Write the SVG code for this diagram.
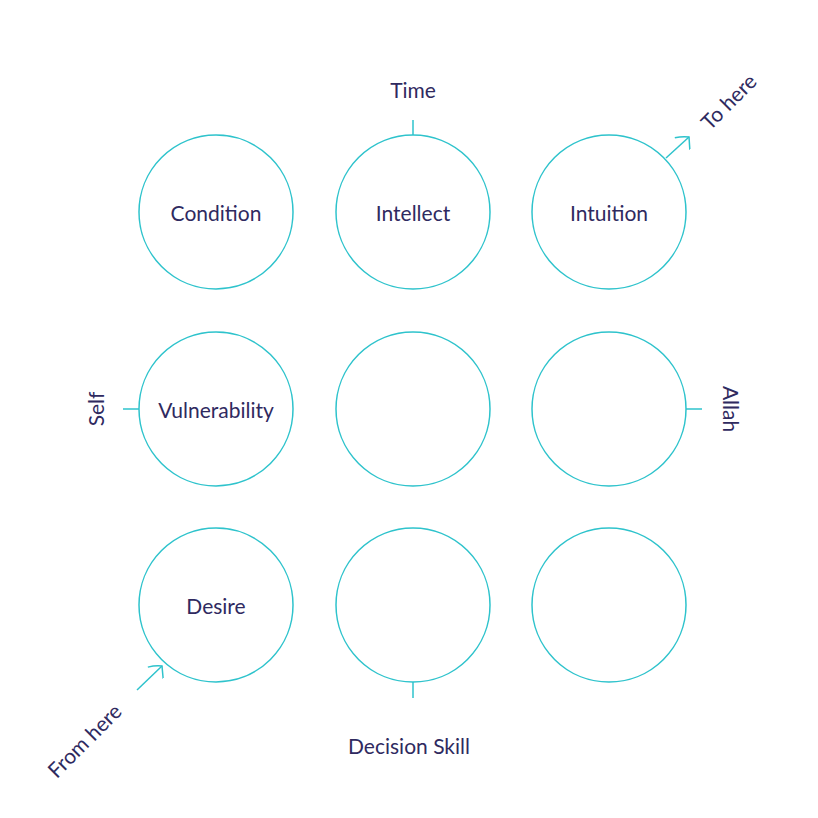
<svg xmlns="http://www.w3.org/2000/svg" width="818" height="818" viewBox="0 0 818 818">
<style>
.c{fill:none;stroke:#2ec3cc;stroke-width:1.5}
.l{stroke:#2ec3cc;stroke-width:1.5;fill:none}
.t{font-family:Lato,"Liberation Sans",sans-serif;font-size:21px;fill:#2f2a5f;text-anchor:middle;dominant-baseline:central}
</style>
<defs>
<marker id="ah" viewBox="-12 -10 14 20" markerWidth="14" markerHeight="20" refX="0" refY="0" orient="auto" markerUnits="userSpaceOnUse">
<path d="M-11,-9 Q-4,-5 0,0 Q-4,5 -8,10" class="l"/>
</marker>
</defs>
<rect width="818" height="818" fill="#fff"/>
<g id="n1"><circle class="c" cx="216" cy="212" r="77"/><text class="t" x="216" y="212">Condition</text></g>
<g id="n2"><circle class="c" cx="413" cy="212" r="77"/><text class="t" x="413" y="212">Intellect</text></g>
<g id="n3"><circle class="c" cx="609" cy="212" r="77"/><text class="t" x="609" y="212">Intuition</text></g>
<g id="n4"><circle class="c" cx="216" cy="409" r="77"/><text class="t" x="216" y="409">Vulnerability</text></g>
<g id="n5"><circle class="c" cx="413" cy="409" r="77"/></g>
<g id="n6"><circle class="c" cx="609" cy="409" r="77"/></g>
<g id="n7"><circle class="c" cx="216" cy="605" r="77"/><text class="t" x="216" y="605">Desire</text></g>
<g id="n8"><circle class="c" cx="413" cy="605" r="77"/></g>
<g id="n9"><circle class="c" cx="609" cy="605" r="77"/></g>
<g id="connectors">
<line class="l" x1="413" y1="120" x2="413" y2="135"/>
<line class="l" x1="413" y1="682" x2="413" y2="698"/>
<line class="l" x1="123" y1="409" x2="139" y2="409"/>
<line class="l" x1="686" y1="409" x2="702" y2="409"/>
<line class="l" x1="666" y1="158" x2="689" y2="137" marker-end="url(#ah)"/>
<line class="l" x1="137" y1="690" x2="162" y2="666" marker-end="url(#ah)"/>
</g>
<g id="labels">
<text class="t" x="413" y="89">Time</text>
<text class="t" x="409" y="745">Decision Skill</text>
<text class="t" transform="translate(95,409) rotate(-90)">Self</text>
<text class="t" transform="translate(731,409) rotate(90)">Allah</text>
<text class="t" transform="translate(728,101) rotate(-45)">To here</text>
<text class="t" transform="translate(84,740) rotate(-45)">From here</text>
</g>
</svg>
